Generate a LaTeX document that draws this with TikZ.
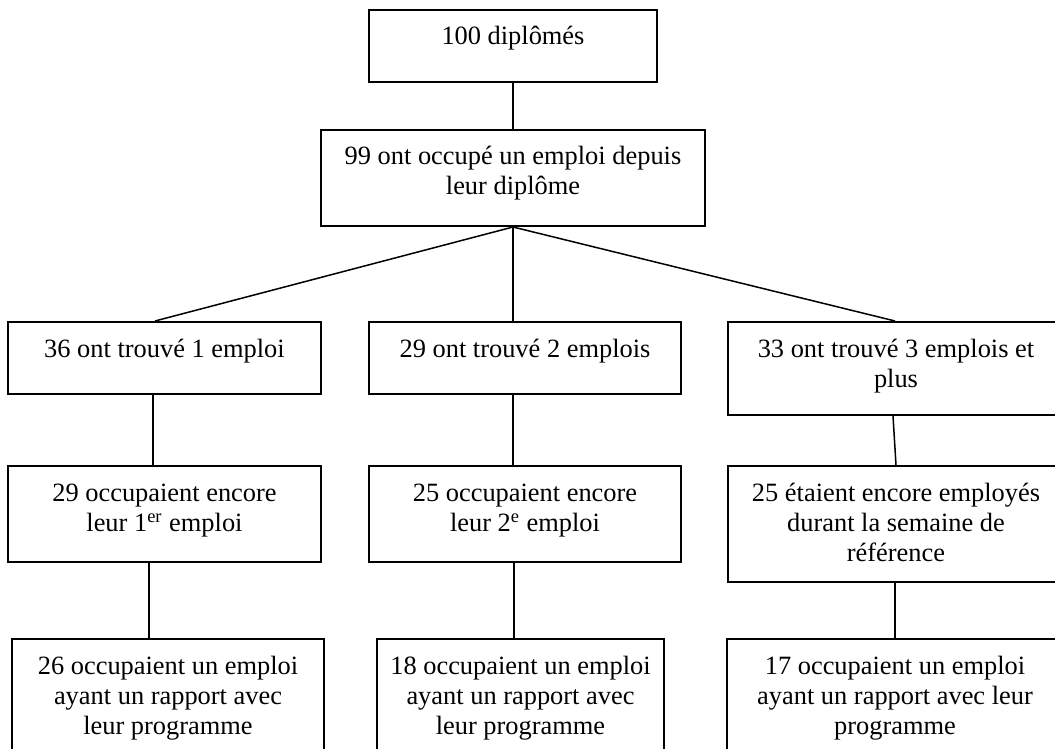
\documentclass[tikz,border=0pt]{standalone}
\usepackage{fontspec}
\setmainfont{Liberation Serif}
\newcommand{\bxtext}[3]{\parbox[c][#2][t]{#1}{\centering\rule{0pt}{17.5pt}#3}}
\tikzset{
  box/.style={draw, line width=1pt, inner sep=0pt, rectangle,
    font=\fontsize{13.2}{15}\selectfont},
  link/.style={draw, line width=0.75pt}
}
\begin{document}
\begin{tikzpicture}[x=0.5pt, y=-0.5pt]
\useasboundingbox (0,0) rectangle (1055,749);
\clip (0,0) rectangle (1055,749);
\fill[white] (0,0) rectangle (1055,749);
% row 1 and 2
\node[box] (B1) at (513,46) {\bxtext{144pt}{36pt}{100 diplômés}};
\node[box] (B2) at (513,178) {\bxtext{192pt}{48pt}{99 ont occupé un emploi depuis\\leur diplôme}};
% row 3
\node[box] (R3A) at (164.5,358) {\bxtext{156.5pt}{36pt}{36 ont trouvé 1 emploi}};
\node[box] (R3B) at (525,358) {\bxtext{156pt}{36pt}{29 ont trouvé 2 emplois}};
\node[box] (R3C) at (896,368.5) {\bxtext{168pt}{46.5pt}{33 ont trouvé 3 emplois et\\plus}};
% row 4
\node[box] (R4A) at (164.5,514) {\bxtext{156.5pt}{48pt}{29 occupaient encore\\leur 1\textsuperscript{er} emploi}};
\node[box] (R4B) at (525,514) {\bxtext{156pt}{48pt}{25 occupaient encore\\leur 2\textsuperscript{e} emploi}};
\node[box] (R4C) at (896,524) {\bxtext{168pt}{58pt}{25 étaient encore employés\\durant la semaine de\\référence}};
% row 5
\node[box] (R5A) at (168,704) {\bxtext{156pt}{65pt}{26 occupaient un emploi\\ayant un rapport avec\\leur programme}};
\node[box] (R5B) at (520.5,704) {\bxtext{143.5pt}{65pt}{18 occupaient un emploi\\ayant un rapport avec\\leur programme}};
\node[box] (R5C) at (895,704) {\bxtext{168pt}{65pt}{17 occupaient un emploi\\ayant un rapport avec leur\\programme}};
% connectors
\draw[link] (B1.south) -- (B2.north);
\draw[link] (B2.south) -- ([xshift=-4.75pt]R3A.north);
\draw[link] (B2.south) -- ([xshift=-6pt]R3B.north);
\draw[link] (B2.south) -- ([xshift=-0.5pt]R3C.north);
\draw[link] ([xshift=-5.75pt]R3A.south) -- ([xshift=-5.75pt]R4A.north);
\draw[link] ([xshift=-6pt]R3B.south) -- ([xshift=-6pt]R4B.north);
\draw[link] ([xshift=-1.5pt]R3C.south) -- ([xshift=0pt]R4C.north);
\draw[link] ([xshift=-7.75pt]R4A.south) -- ([xshift=-9.5pt]R5A.north);
\draw[link] ([xshift=-5.5pt]R4B.south) -- ([xshift=-3.25pt]R5B.north);
\draw[link] ([xshift=-0.5pt]R4C.south) -- (R5C.north);
\end{tikzpicture}
\end{document}
